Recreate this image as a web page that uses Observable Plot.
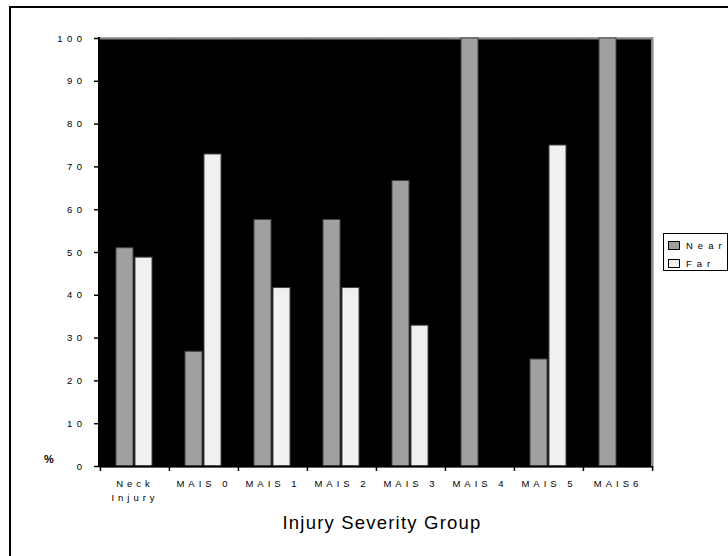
<!DOCTYPE html>
<html>
<head>
<meta charset="utf-8">
<script src="https://cdn.jsdelivr.net/npm/d3@7"></script>
<script src="https://cdn.jsdelivr.net/npm/@observablehq/plot@0.6"></script>
<style>
  html, body { margin: 0; padding: 0; background: #fff; overflow: hidden; }
  #wrap { position: relative; width: 728px; height: 556px; overflow: hidden; font-family: Arial, "Liberation Sans", sans-serif; color: #000; }
  #border { position: absolute; left: 9px; top: 6px; width: 900px; height: 900px; border: 2px solid #000; }
  #chart { position: absolute; left: 0; top: 0; }
  #chart svg text { letter-spacing: 4px; }
  #chart svg g[aria-label="y-axis tick label"] text { letter-spacing: 4.5px; }
  .edge { position: absolute; top: 37px; height: 430px; width: 2px; }
  #title { position: absolute; left: 0; width: 764px; top: 512px; text-align: center; font-size: 18.5px; letter-spacing: 1.2px; }
  #pct { position: absolute; left: 44px; top: 453px; font-size: 11px; font-weight: bold; }
  #legend { position: absolute; left: 663px; top: 233px; width: 63px; height: 36px; border: 1px solid #000; overflow: hidden; font-size: 9.5px; letter-spacing: 5px; background: #fff; }
  .row { position: absolute; left: 4px; display: flex; align-items: center; white-space: nowrap; line-height: 11px; }
  .sw { width: 10px; height: 7px; border: 1px solid #000; margin-right: 6px; }
</style>
</head>
<body>
<div id="wrap">
  <div id="border"></div>
  <div id="chart"></div>
  <div class="edge" style="left:98px;background:#000"></div>
  <div class="edge" style="left:651px;background:#888;height:429px"></div>
  <div id="pct">%</div>
  <div id="title"></div>
  <div id="legend"></div>
</div>
<script>
const categories = ["Neck\nInjury", "MAIS 0", "MAIS 1", "MAIS 2", "MAIS 3", "MAIS 4", "MAIS 5", "MAIS6"];
const series = ["Near", "Far"];
const nearValues = [51, 26.8, 57.6, 57.6, 66.7, 100, 25, 100];
const farValues = [48.8, 72.9, 41.7, 41.7, 32.9, 0, 75, 0];
const yTicks = [0, 10, 20, 30, 40, 50, 60, 70, 80, 90, 100];
const seriesColors = ["#a0a0a0", "#f0f0f0"];
const xTitle = "Injury Severity Group";

const data = categories.flatMap((c, i) => [
  {cat: c, s: series[0], v: nearValues[i]},
  {cat: c, s: series[1], v: farValues[i]}
]).filter(d => d.v > 0);

const W = 728, H = 556, ML = 99, MR = 76, MT = 38, MB = 90;
const bw = (W - ML - MR) / categories.length;

const chart = Plot.plot({
  width: W, height: H,
  marginLeft: ML, marginRight: MR, marginTop: MT, marginBottom: MB,
  style: {fontFamily: "Arial, 'Liberation Sans', sans-serif", fontSize: "9.5px", background: "transparent", color: "#000"},
  fx: {domain: categories, padding: 0, label: null},
  x: {domain: series, paddingInner: 0.1, paddingOuter: 0.85, axis: null},
  y: {domain: [0, 100], label: null},
  color: {domain: series, range: seriesColors},
  marks: [
    Plot.frame({fill: "black", stroke: "black", strokeWidth: 1.5}),
    Plot.ruleY([100], {stroke: "#888", strokeWidth: 2}),
    Plot.barY(data, {fx: "cat", x: "s", y: "v", fill: "s", stroke: "#444", strokeWidth: 1}),
    Plot.ruleY([0], {stroke: "#000", strokeWidth: 2}),
    Plot.axisY({ticks: yTicks, tickSize: 6, tickPadding: 8, strokeWidth: 1.5, label: null}),
    Plot.axisFx({anchor: "bottom", tickSize: 0, tickPadding: 10, lineHeight: 1.5, label: null}),
    Plot.axisFx({anchor: "bottom", tickSize: 5, strokeWidth: 1.5, tickFormat: () => "", dx: -bw / 2, label: null}),
    Plot.axisFx({anchor: "bottom", ticks: [categories[categories.length - 1]], tickSize: 5, strokeWidth: 1.5, tickFormat: () => "", dx: bw / 2, label: null})
  ]
});
document.getElementById("chart").appendChild(chart);

document.getElementById("title").textContent = xTitle;
const legend = document.getElementById("legend");
series.forEach((s, i) => {
  const row = document.createElement("div");
  row.className = "row";
  row.style.top = (6 + i * 18) + "px";
  const sw = document.createElement("div");
  sw.className = "sw";
  sw.style.background = seriesColors[i];
  const t = document.createElement("span");
  t.textContent = s;
  row.appendChild(sw);
  row.appendChild(t);
  legend.appendChild(row);
});
</script>
</body>
</html>
